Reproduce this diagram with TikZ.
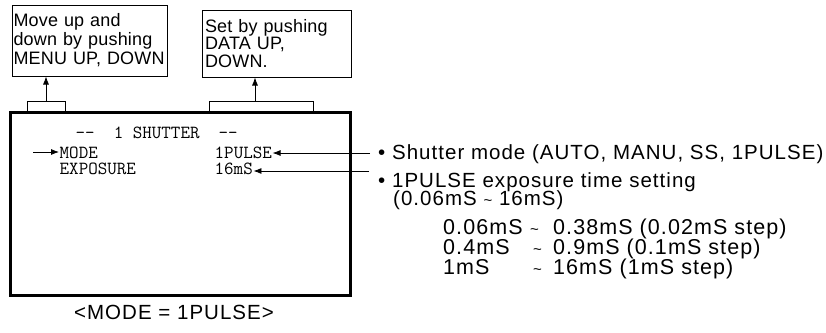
\documentclass[tikz,border=0pt]{standalone}
\usepackage{fontspec}
\setmainfont{Liberation Sans}
\usetikzlibrary{arrows.meta}
\newcommand\boxfont{\fontsize{18}{19}\selectfont\addfontfeature{LetterSpace=1}}
\newcommand\notefont{\fontsize{20.5}{20.5}\selectfont\addfontfeature{LetterSpace=5}}
\newcommand\stepfont{\fontsize{21.5}{21.5}\selectfont\addfontfeature{LetterSpace=5}}
\newcommand\range{{\fontsize{15}{15}\selectfont\textasciitilde}}
\tikzset{
    note-box/.style = {draw, line width=1pt, rectangle, align=left, inner xsep=1.5pt, inner ysep=0pt, font=\boxfont},
    screen-box/.style = {draw, line width=3pt, rectangle, inner sep=0pt},
    tab-box/.style = {draw, line width=1pt, rectangle, inner sep=0pt, minimum height=11pt},
    lcd-text/.style = {anchor=base west, inner sep=0.5pt, font=\ttfamily\fontsize{18.5}{18.5}\selectfont},
    note-text/.style = {anchor=base west, inner sep=0pt, font=\notefont},
    step-text/.style = {anchor=base west, inner sep=0pt, font=\stepfont},
    pointer/.style = {-{Latex[length=8pt,width=6pt]}, line width=0.8pt},
}
\begin{document}
\begin{tikzpicture}[x=1pt, y=-1pt]
\useasboundingbox (0,0) rectangle (826,332);
% help boxes above the screen
\node[note-box, minimum width=155pt, minimum height=71pt, text width=152pt] (menubox) at (89.5,40.5) {Move up and\\down by pushing\\MENU UP, DOWN};
\node[note-box, minimum width=149pt, minimum height=67pt, text width=143pt, inner xsep=3pt, font=\boxfont\fontsize{18}{17.5}\selectfont] (databox) at (276.5,43.5) {Set by pushing\\DATA UP,\\DOWN.};
% tabs and screen
\node[tab-box, minimum width=38pt] (menutab) at (46,106.5) {};
\node[tab-box, minimum width=104pt] (datatab) at (261,106.5) {};
\node[screen-box, minimum width=340pt, minimum height=183pt] (screen) at (180,203.5) {};
\draw[pointer] (menutab.north) -- (menutab.north |- menubox.south);
\coordinate (datakey) at (255,101);
\draw[pointer] (datakey) -- (datakey |- databox.south);
% screen lines
\node[lcd-text] (title) at (75,138) {-{}-~~1~SHUTTER~~-{}-};
\node[lcd-text] (modeitem) at (59,158) {MODE};
\node[lcd-text] (expitem) at (59,174) {EXPOSURE};
\node[lcd-text] (modeval) at (214,158) {1PULSE};
\node[lcd-text] (expval) at (214,174) {16mS};
\coordinate (cursor) at (33,152);
\draw[pointer] (cursor) -- (cursor -| modeitem.west);
% notes on the right
\node[note-text] (modenote) at (378,159) {• Shutter mode (AUTO, MANU, SS, 1PULSE)};
\node[note-text] (expnote) at (378,187) {• 1PULSE exposure time setting};
\node[note-text] (rangenote) at (393,205) {(0.06mS \range{} 16mS)};
\coordinate (modetail) at (370,153);
\draw[pointer] (modetail) -- (modetail -| modeval.east);
\coordinate (exptail) at (369,171);
\draw[pointer] (exptail) -- (exptail -| expval.east);
% step table
\node[step-text] (finefrom) at (443,234) {0.06mS};
\node[step-text] (finesep) at (530,234) {\range};
\node[step-text] (fineto) at (553,234) {0.38mS (0.02mS step)};
\node[step-text] (midfrom) at (443,254) {0.4mS};
\node[step-text] (midsep) at (533,254) {\range};
\node[step-text] (midto) at (553,254) {0.9mS (0.1mS step)};
\node[step-text] (coarsefrom) at (443,274) {1mS};
\node[step-text] (coarsesep) at (533,274) {\range};
\node[step-text] (coarseto) at (553,274) {16mS (1mS step)};
% caption
\node[note-text, anchor=base] (caption) at (174,319) {<MODE = 1PULSE>};
\end{tikzpicture}
\end{document}
